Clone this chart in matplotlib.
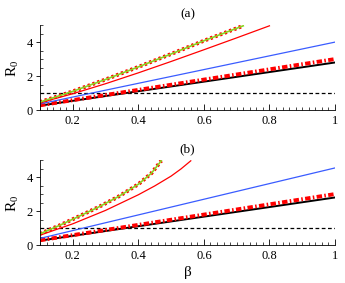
import numpy as np
import matplotlib.pyplot as plt
from matplotlib.ticker import MultipleLocator

plt.rcParams['font.family'] = 'serif'
plt.rcParams['font.serif'] = ['Liberation Serif', 'Times New Roman', 'DejaVu Serif']
plt.rcParams['mathtext.fontset'] = 'stix'
plt.rcParams['font.size'] = 9

# Dane (beta, R0)
beta_lin = [0.1, 1.0]

# panel (a)
a_black = [0.28, 2.82]
a_dashdot = [0.30, 3.02]
a_blue = [0.38, 4.02]
a_red_x = [0.1, 0.2, 0.3, 0.4, 0.5, 0.6, 0.7, 0.8]
a_red_y = [0.45, 0.98, 1.57, 2.21, 2.88, 3.57, 4.27, 4.98]
a_green_x = [0.1, 0.2, 0.3, 0.4, 0.5, 0.6, 0.72]
a_green_y = [0.49, 1.12, 1.82, 2.56, 3.32, 4.10, 4.98]

# panel (b)
b_black = [0.28, 2.82]
b_dashdot = [0.30, 3.02]
b_blue = [0.41, 4.56]
b_red_x = [0.1, 0.2, 0.3, 0.4, 0.45, 0.5, 0.53, 0.56]
b_red_y = [0.60, 1.27, 2.06, 2.98, 3.50, 4.08, 4.50, 4.98]
b_green_x = [0.1, 0.16, 0.22, 0.28, 0.34, 0.4, 0.44, 0.47]
b_green_y = [0.68, 1.18, 1.72, 2.27, 2.88, 3.60, 4.25, 4.98]

threshold = 1.0

fig = plt.figure(figsize=(3.45, 2.83), dpi=100)
ax_a = fig.add_axes([0.116, 0.610, 0.855, 0.300])
ax_b = fig.add_axes([0.116, 0.133, 0.855, 0.300])

panels = [
    (ax_a, '(a)', a_black, a_dashdot, a_blue, a_red_x, a_red_y, a_green_x, a_green_y),
    (ax_b, '(b)', b_black, b_dashdot, b_blue, b_red_x, b_red_y, b_green_x, b_green_y),
]

for ax, title, blk, dd, blu, rx, ry, gx, gy in panels:
    ax.axhline(threshold, color='k', lw=0.9, ls=(0, (3, 2)))
    ax.plot(beta_lin, blk, color='k', lw=1.4)
    ax.plot(beta_lin, dd, color='red', lw=2.8, ls=(0, (1.4, 0.6, 0.4, 0.6)))
    ax.plot(beta_lin, blu, color='#3a5cff', lw=0.9)
    ax.plot(rx, ry, color='red', lw=0.9)
    ax.plot(gx, gy, color='red', lw=2.8, ls=(0, (0.6, 0.7)))
    ax.plot(gx, gy, color='#8ad420', lw=1.2)

    ax.set_xlim(0.1, 1.0)
    ax.set_ylim(0, 5)
    ax.spines['top'].set_visible(False)
    ax.spines['right'].set_visible(False)
    ax.xaxis.set_minor_locator(MultipleLocator(0.02))
    ax.yaxis.set_major_locator(MultipleLocator(2))
    ax.yaxis.set_minor_locator(MultipleLocator(0.5))
    ax.set_xticks([0.2, 0.4, 0.6, 0.8, 1.0])
    ax.set_xticklabels(['0.2', '0.4', '0.6', '0.8', '1'])
    ax.tick_params(axis='x', which='major', direction='in', length=4, width=0.6, pad=3)
    ax.tick_params(axis='x', which='minor', direction='in', length=2, width=0.5)
    ax.tick_params(axis='y', which='major', direction='out', length=3, width=0.6, pad=2)
    ax.tick_params(axis='y', which='minor', direction='in', length=2, width=0.5)
    for s in ['left', 'bottom']:
        ax.spines[s].set_linewidth(0.6)
    ax.set_ylabel(r'R$_\mathregular{0}$', labelpad=4, fontsize=11)
    ax.set_title(title, fontsize=9.5, pad=6)

ax_b.set_xlabel('β', labelpad=3, fontsize=11)

fig.savefig('out.png', dpi=100)
